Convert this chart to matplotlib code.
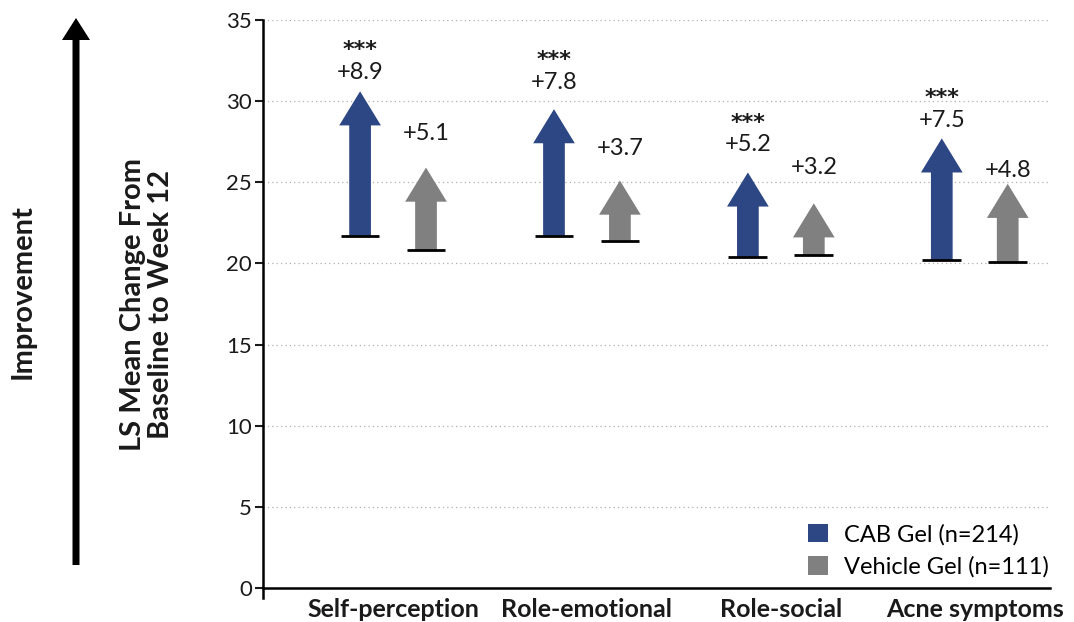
import matplotlib
matplotlib.use("Agg")
import matplotlib.pyplot as plt
import numpy as np
from matplotlib.patches import FancyArrow, Patch

plt.rcParams["font.family"] = ["Lato", "DejaVu Sans"]

# LS mean scores per domain: baseline and change to week 12
domains = ["Self-perception", "Role-emotional", "Role-social", "Acne symptoms"]
cab_baseline = [21.7, 21.7, 20.4, 20.2]
cab_change = [8.9, 7.8, 5.2, 7.5]
veh_baseline = [20.8, 21.4, 20.5, 20.1]
veh_change = [5.1, 3.7, 3.2, 4.8]
cab_sig = ["***", "***", "***", "***"]
legend_labels = ["CAB Gel (n=214)", "Vehicle Gel (n=111)"]

# gap (points) between arrow tip and its value label
cab_pad = [8.6, 14.4, 15.1, 7.9]
veh_pad = [20.0, 18.7, 20.9, 5.0]

navy = "#2c4784"
grey = "#808080"
ink = "#1a1a1a"

fig = plt.figure(figsize=(10.74, 6.22), dpi=100)
ax = fig.add_axes([0.245, 0.0547, 0.733, 0.9133])
ax.set_xlim(-0.67, 3.39)
ax.set_ylim(0, 35)

x = np.arange(len(domains))
offset = 0.17
shaft_w = 0.112
head_w = 0.215
head_len = 2.1
base_half = 0.1


def draw_arrows(xs, base, change, pads, color, sig=None):
    for i, (xi, b, c) in enumerate(zip(xs, base, change)):
        ax.add_patch(FancyArrow(xi, b, 0, c, width=shaft_w, head_width=head_w,
                                head_length=head_len, length_includes_head=True,
                                color=color, lw=0, zorder=3))
        ax.plot([xi - base_half, xi + base_half], [b, b], color="black",
                lw=2, zorder=4, solid_capstyle="butt")
        ax.annotate(f"+{c:.1f}", (xi, b + c), xytext=(0, pads[i]),
                    textcoords="offset points", ha="center", va="baseline",
                    fontsize=17, color=ink)
        if sig is not None:
            ax.annotate(sig[i], (xi, b + c), xytext=(0, pads[i] + 16.5),
                        textcoords="offset points", ha="center", va="baseline",
                        fontsize=16, fontweight="bold", color=ink,
                        family="DejaVu Sans")


draw_arrows(x - offset, cab_baseline, cab_change, cab_pad, navy, cab_sig)
draw_arrows(x + offset, veh_baseline, veh_change, veh_pad, grey)

# axes styling
ax.set_yticks(np.arange(0, 36, 5))
ax.tick_params(axis="y", labelsize=16, length=6, width=1.5, direction="out",
               pad=2, colors=ink)
ax.set_xticks(x)
ax.set_xticklabels(domains, fontsize=18, fontweight="bold", color=ink)
ax.tick_params(axis="x", length=0, pad=7)
ax.grid(axis="y", linestyle=(0, (1, 2.5)), color="#b0b0b0", lw=0.9)
ax.set_axisbelow(True)
for side in ("top", "right"):
    ax.spines[side].set_visible(False)
for side in ("left", "bottom"):
    ax.spines[side].set_linewidth(1.8)
    ax.spines[side].set_color("black")
ax.plot([-0.67, -0.67], [0, -0.6], color="black", lw=1.8, clip_on=False)

handles = [Patch(facecolor=navy, label=legend_labels[0]),
           Patch(facecolor=grey, label=legend_labels[1])]
ax.legend(handles=handles, loc="lower right", bbox_to_anchor=(1.012, 0.0),
          frameon=False, fontsize=17, handlelength=0.85, handleheight=0.85,
          handletextpad=0.68, labelspacing=0.45, borderaxespad=0,
          borderpad=0.45)

# side annotation: "Improvement" arrow and axis title
fig.add_artist(FancyArrow(0.76, 0.57, 0, 5.47, width=0.07, head_width=0.28,
                          head_length=0.22, length_includes_head=True,
                          color="black", lw=0, transform=fig.dpi_scale_trans))
fig.text(0.021, 0.531, "Improvement", rotation=90, ha="center", va="center",
         fontsize=21, fontweight="bold", color=ink)
fig.text(0.137, 0.511, "LS Mean Change From\nBaseline to Week 12", rotation=90,
         ha="center", va="center", fontsize=21, fontweight="bold",
         color=ink, linespacing=1.1)

fig.savefig("out.png", dpi=100)
